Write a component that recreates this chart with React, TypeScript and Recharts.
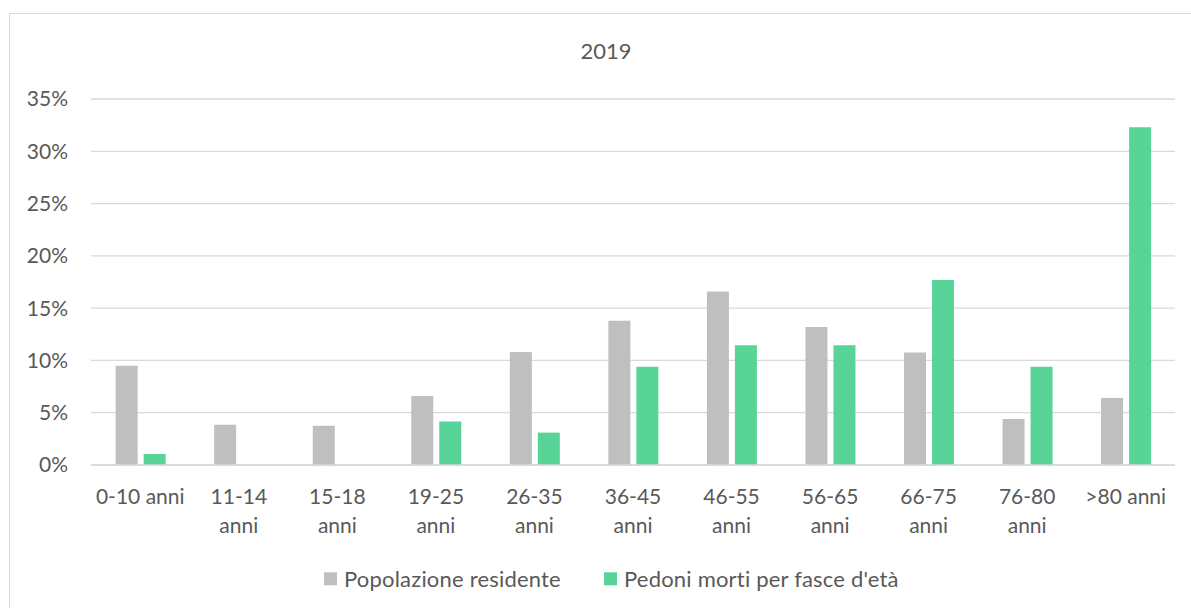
import React from "react";
import { BarChart, Bar, XAxis, YAxis, CartesianGrid } from "recharts";

const categories = [
  "0-10 anni",
  "11-14 anni",
  "15-18 anni",
  "19-25 anni",
  "26-35 anni",
  "36-45 anni",
  "46-55 anni",
  "56-65 anni",
  "66-75 anni",
  "76-80 anni",
  ">80 anni",
];
const popolazione = [9.5, 3.85, 3.75, 6.6, 10.8, 13.8, 16.6, 13.2, 10.75, 4.4, 6.4];
const pedoni = [1.05, 0, 0, 4.15, 3.1, 9.4, 11.45, 11.45, 17.7, 9.4, 32.3];
const yTicks = [0, 5, 10, 15, 20, 25, 30, 35];
const title = "2019";
const seriesNames = ["Popolazione residente", "Pedoni morti per fasce d'età"];
const seriesColors = ["#bfbfbf", "#59d499"];

const data = categories.map((c, i) => ({ cat: c, pop: popolazione[i], ped: pedoni[i] }));

const FONT = "Lato, 'Open Sans', sans-serif";
const TEXT = "#595959";

const XTick = (props: any) => {
  const { x, y, payload } = props;
  const label: string = payload.value;
  let lines = [label];
  if (label.length > 9) {
    const k = label.lastIndexOf(" ");
    lines = [label.slice(0, k), label.slice(k + 1)];
  }
  return (
    <text x={x} y={y} textAnchor="middle" fill={TEXT} fontSize={21} fontFamily={FONT}>
      {lines.map((l, i) => (
        <tspan key={i} x={x} dy={i === 0 ? 39.3 : 29}>
          {l}
        </tspan>
      ))}
    </text>
  );
};

export default function App() {
  const legendX = [314, 594];
  return (
    <div
      style={{
        position: "absolute",
        left: 9,
        top: 13,
        width: 1182,
        height: 595,
        overflow: "hidden",
      }}
    >
      <div
        style={{
          position: "relative",
          width: 1196,
          height: 598,
          border: "1px solid #d9d9d9",
          background: "#fff",
        }}
      >
        <BarChart
          width={1196}
          height={598}
          data={data}
          margin={{ top: 85, right: 31, left: 0, bottom: 87 }}
          barCategoryGap="25%"
          barGap={6}
        >
          <CartesianGrid vertical={false} stroke="#d9d9d9" strokeWidth={1.3} />
          <XAxis
            dataKey="cat"
            interval={0}
            tickLine={false}
            tickSize={0}
            tickMargin={0}
            axisLine={{ stroke: "#d9d9d9", strokeWidth: 1.3 }}
            tick={<XTick />}
            height={60}
          />
          <YAxis
            domain={[0, 35]}
            ticks={yTicks}
            interval={0}
            width={81}
            axisLine={false}
            tickLine={false}
            tickSize={0}
            tickMargin={23}
            tickFormatter={(v: number) => `${v}%`}
            tick={{ fill: TEXT, fontSize: 21, fontFamily: FONT }}
          />
          <Bar dataKey="pop" name={seriesNames[0]} fill={seriesColors[0]} isAnimationActive={false} />
          <Bar dataKey="ped" name={seriesNames[1]} fill={seriesColors[1]} isAnimationActive={false} />
        </BarChart>
        <svg
          width={1196}
          height={598}
          style={{ position: "absolute", left: 0, top: 0, pointerEvents: "none" }}
        >
          <text x={596} y={45.3} textAnchor="middle" fill={TEXT} fontSize={22} fontFamily={FONT}>
            {title}
          </text>
          {seriesNames.map((n, i) => (
            <g key={n}>
              <rect x={legendX[i]} y={558.3} width={13} height={13} fill={seriesColors[i]} />
              <text
                x={legendX[i] + 20}
                y={572.8}
                fill={TEXT}
                fontSize={22}
                letterSpacing={0.2}
                fontFamily={FONT}
              >
                {n}
              </text>
            </g>
          ))}
        </svg>
      </div>
    </div>
  );
}
